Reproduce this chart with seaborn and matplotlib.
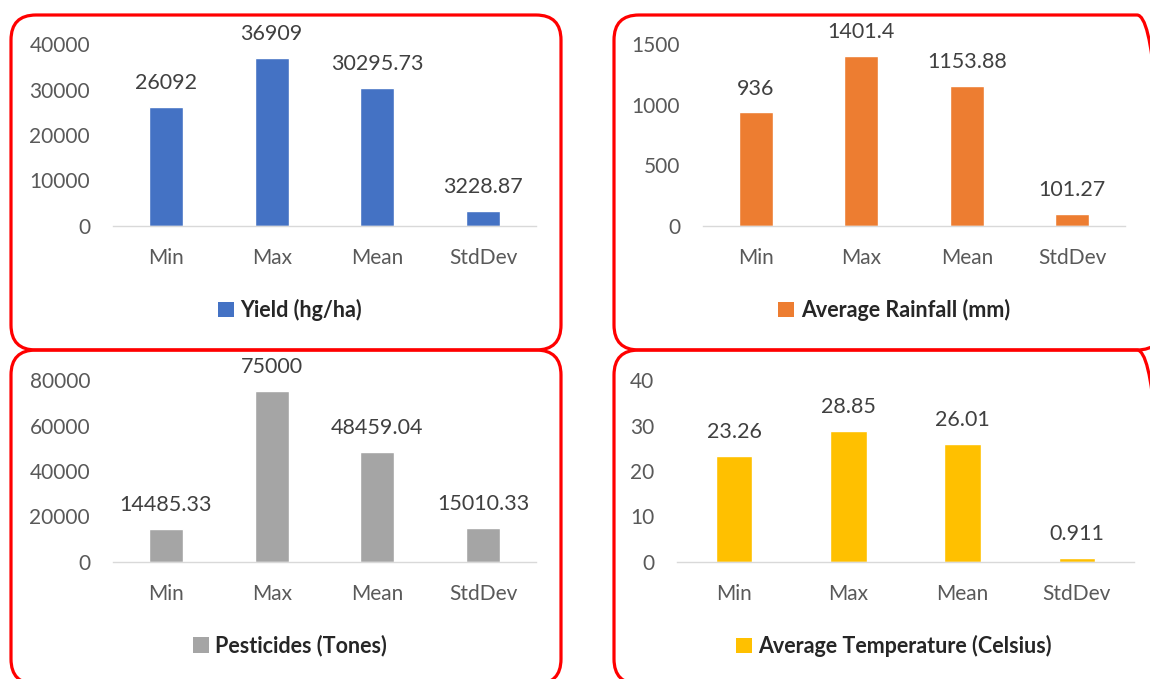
import matplotlib
matplotlib.use("Agg")
import matplotlib.pyplot as plt
from matplotlib.patches import FancyBboxPatch, Patch
import seaborn as sns
import pandas as pd

# Summary statistics for each crop/climate variable
stats = ["Min", "Max", "Mean", "StdDev"]
yield_vals = [26092, 36909, 30295.73, 3228.87]
rain_vals = [936, 1401.4, 1153.88, 101.27]
pest_vals = [14485.33, 75000, 48459.04, 15010.33]
temp_vals = [23.26, 28.85, 26.01, 0.911]

titles = ["Yield (hg/ha)", "Average Rainfall (mm)",
          "Pesticides (Tones)", "Average Temperature (Celsius)"]
colors = ["#4472C4", "#ED7D31", "#A5A5A5", "#FFC000"]
yticks = [[0, 10000, 20000, 30000, 40000],
          [0, 500, 1000, 1500],
          [0, 20000, 40000, 60000, 80000],
          [0, 10, 20, 30, 40]]

sns.set_theme(style="white")
plt.rcParams["font.family"] = ["Lato", "DejaVu Sans"]

W, H = 1150, 679
fig = plt.figure(figsize=(W / 100, H / 100), dpi=100)

def px_axes(x0, x1, y0, y1):
    # pixel box (top-left origin) -> figure fraction
    return [x0 / W, (H - y1) / H, (x1 - x0) / W, (y1 - y0) / H]

# axes rectangles: x-left, x-right, y-top, y-baseline (pixels)
axes_px = [(113, 536, 44, 226),
           (703, 1125, 44, 226),
           (113, 536, 380, 562),
           (677, 1134, 380, 562)]
# rounded frames around each panel
frames_px = [(11, 15, 561, 350),
             (614, 15, 1162, 350),
             (11, 350, 561, 684),
             (614, 350, 1162, 684)]
legend_y = [310, 310, 646, 646]

series = [yield_vals, rain_vals, pest_vals, temp_vals]

def fmt(v):
    return f"{int(v)}" if float(v).is_integer() else str(v)

for i in range(4):
    x0, x1, y0, y1 = axes_px[i]
    ax = fig.add_axes(px_axes(x0, x1, y0, y1))
    df = pd.DataFrame({"stat": stats, "value": series[i]})
    sns.barplot(data=df, x="stat", y="value", color=colors[i], saturation=1,
                width=0.32, ax=ax)
    ax.set_ylim(yticks[i][0], yticks[i][-1])
    ax.set_xlim(-0.5, 3.5)
    ax.set_yticks(yticks[i])
    ax.set_xlabel("")
    ax.set_ylabel("")
    for s in ["top", "right", "left"]:
        ax.spines[s].set_visible(False)
    ax.spines["bottom"].set_color("#D9D9D9")
    ax.spines["bottom"].set_linewidth(1.0)
    ax.tick_params(axis="y", length=0, pad=16.5, labelsize=15, labelcolor="#595959")
    ax.tick_params(axis="x", length=0, pad=16, labelsize=15, labelcolor="#595959")
    ax.bar_label(ax.containers[0], labels=[fmt(v) for v in series[i]],
                 padding=10, color="#404040", fontsize=15.5, clip_on=False)
    ax.patch.set_alpha(0)

    fx0, fy0, fx1, fy1 = frames_px[i]
    frame = FancyBboxPatch((fx0 / 100, (H - fy1) / 100), (fx1 - fx0) / 100,
                           (fy1 - fy0) / 100,
                           boxstyle="round,pad=0,rounding_size=0.25",
                           transform=fig.dpi_scale_trans, fill=False,
                           edgecolor="#FF0000", linewidth=2.3, clip_on=False)
    fig.add_artist(frame)

    cx = (fx0 + fx1) / 2 + 4
    if i % 2 == 1:
        cx = (fx0 + 1150) / 2 + 12
    handle = Patch(facecolor=colors[i], edgecolor="none")
    fig.legend(handles=[handle], labels=[titles[i]], loc="center",
               bbox_to_anchor=(cx / W, (H - legend_y[i]) / H),
               frameon=False, handlelength=0.75, handleheight=0.75,
               handletextpad=0.3, borderpad=0,
               prop={"weight": "bold", "size": 15.5})

fig.savefig("out.png", dpi=100)
